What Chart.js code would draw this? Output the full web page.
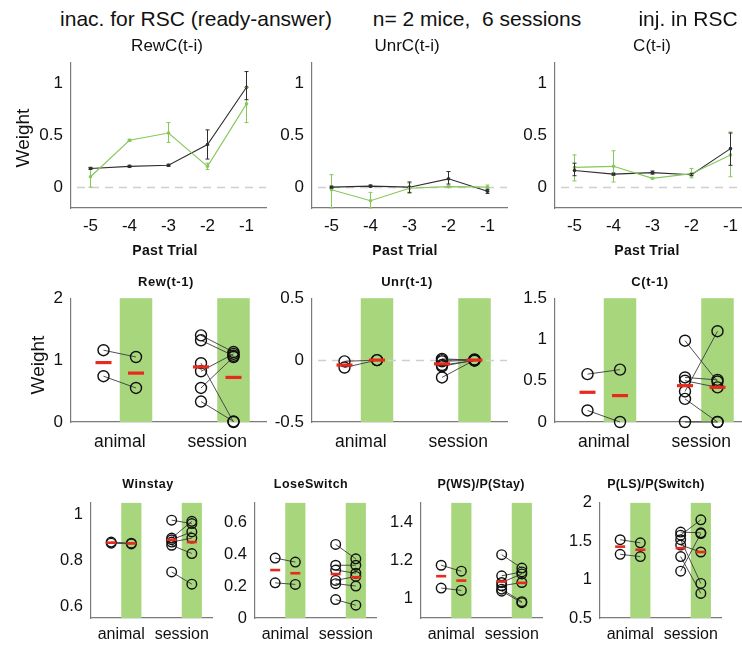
<!DOCTYPE html>
<html><head><meta charset="utf-8">
<script src="https://cdn.jsdelivr.net/npm/chart.js@4.4.1/dist/chart.umd.min.js"></script>
<style>
html,body{margin:0;padding:0;background:#fff;overflow:hidden;}
#fig{position:relative;width:742px;height:650px;overflow:hidden;font-family:"Liberation Sans",Arial,sans-serif;color:#111;background:#fff;}
#fig canvas{position:absolute;}
.t{position:absolute;white-space:pre;transform:translate(-50%,-50%);line-height:1;}
.rot{transform:translate(-50%,-50%) rotate(-90deg);}
</style></head><body><div id="fig"></div>
<script>
// ---------- DATA ----------
const pastTrials = [-5, -4, -3, -2, -1];
const topYTicks = [0, 0.5, 1];

// RewC(t-i)
const rewC_ctrl    = [0.18, 0.20, 0.21, 0.41, 0.96];
const rewC_ctrl_lo = [0.17, 0.19, 0.20, 0.27, 0.84];
const rewC_ctrl_hi = [0.19, 0.21, 0.22, 0.55, 1.11];
const rewC_inac    = [0.10, 0.45, 0.52, 0.20, 0.80];
const rewC_inac_lo = [0.00, 0.44, 0.43, 0.17, 0.62];
const rewC_inac_hi = [0.19, 0.46, 0.62, 0.23, 0.96];
// UnrC(t-i)
const unrC_ctrl    = [0.00, 0.01, 0.00, 0.08, -0.04];
const unrC_ctrl_lo = [-0.01, 0.00, -0.05, 0.03, -0.06];
const unrC_ctrl_hi = [0.01, 0.02, 0.05, 0.15, -0.02];
const unrC_inac    = [-0.025, -0.13, -0.01, 0.005, 0.00];
const unrC_inac_lo = [-0.20, -0.20, -0.06, 0.00, -0.02];
const unrC_inac_hi = [0.12, -0.05, 0.04, 0.01, 0.02];
// C(t-i)
const cC_ctrl    = [0.16, 0.125, 0.14, 0.12, 0.37];
const cC_ctrl_lo = [0.11, 0.115, 0.125, 0.11, 0.21];
const cC_ctrl_hi = [0.23, 0.135, 0.155, 0.13, 0.52];
const cC_inac    = [0.19, 0.20, 0.085, 0.13, 0.31];
const cC_inac_lo = [0.06, 0.05, 0.08, 0.09, 0.10];
const cC_inac_hi = [0.31, 0.35, 0.09, 0.18, 0.53];

const catLabels = ['animal', 'session'];

// Rew(t-1)
const rew_animal_ctrl  = [1.16, 0.74];
const rew_animal_inac  = [1.05, 0.55];
const rew_animal_mean  = [0.96, 0.79];
const rew_session_ctrl = [1.40, 1.32, 0.95, 0.82, 0.55, 0.33];
const rew_session_inac = [1.13, 1.07, 0.00, 1.10, 1.05, 0.01];
const rew_session_mean = [0.89, 0.72];
// Unr(t-1)
const unr_animal_ctrl  = [-0.01, -0.06];
const unr_animal_inac  = [0.00, 0.00];
const unr_animal_mean  = [-0.04, 0.00];
const unr_session_ctrl = [0.01, 0.00, -0.01, -0.04, -0.05, -0.14];
const unr_session_inac = [0.00, 0.005, 0.00, -0.005, 0.00, 0.00];
const unr_session_mean = [-0.03, 0.00];
// C(t-1)
const c_animal_ctrl  = [0.58, 0.14];
const c_animal_inac  = [0.635, 0.00];
const c_animal_mean  = [0.36, 0.32];
const c_session_ctrl = [0.985, 0.54, 0.50, 0.37, 0.28, 0.00];
const c_session_inac = [0.49, 0.51, 0.42, 1.10, 0.00, 0.00];
const c_session_mean = [0.44, 0.42];

// Winstay
const ws_animal_ctrl  = [0.88, 0.875];
const ws_animal_inac  = [0.875, 0.872];
const ws_animal_mean  = [0.877, 0.874];
const ws_session_ctrl = [0.975, 0.897, 0.89, 0.88, 0.866, 0.75];
const ws_session_inac = [0.96, 0.97, 0.924, 0.897, 0.83, 0.697];
const ws_session_mean = [0.89, 0.88];
// LoseSwitch
const ls_animal_ctrl  = [0.375, 0.22];
const ls_animal_inac  = [0.35, 0.21];
const ls_animal_mean  = [0.30, 0.28];
const ls_session_ctrl = [0.46, 0.33, 0.30, 0.235, 0.215, 0.115];
const ls_session_inac = [0.37, 0.33, 0.28, 0.26, 0.20, 0.08];
const ls_session_mean = [0.275, 0.255];
// P(WS)/P(Stay)
const wsr_animal_ctrl  = [1.175, 1.056];
const wsr_animal_inac  = [1.144, 1.044];
const wsr_animal_mean  = [1.118, 1.095];
const wsr_session_ctrl = [1.23, 1.12, 1.085, 1.068, 1.05, 1.04];
const wsr_session_inac = [1.16, 1.14, 1.13, 1.085, 0.985, 0.98];
const wsr_session_mean = [1.09, 1.083];
// P(LS)/P(Switch)
const lsr_animal_ctrl  = [1.52, 1.33];
const lsr_animal_inac  = [1.48, 1.30];
const lsr_animal_mean  = [1.43, 1.39];
const lsr_session_ctrl = [1.62, 1.58, 1.52, 1.45, 1.30, 1.11];
const lsr_session_inac = [1.61, 1.78, 0.95, 1.36, 0.82, 1.60];
const lsr_session_mean = [1.41, 1.36];

// ---------- STYLE ----------
const FONT = '"Liberation Sans", Arial, sans-serif';
const AXIS_COL = '#7a7a7a';
const BLACK_LINE = '#2e2e2e';
const GREEN_LINE = '#86c75a';
const GREEN_BAR = '#a8d67c';
const RED = '#e8291d';
const fig = document.getElementById('fig');

function addText(txt, x, y, size, extra) {
  const d = document.createElement('div');
  d.className = 't' + (extra && extra.rot ? ' rot' : '');
  d.textContent = txt;
  d.style.left = x + 'px'; d.style.top = y + 'px';
  d.style.fontSize = size + 'px';
  if (extra && extra.bold) d.style.fontWeight = 'bold';
  if (extra && extra.ls) d.style.letterSpacing = extra.ls + 'px';
  fig.appendChild(d);
}

const PADL = 70, PADT = 14, PADR = 14, XH = 40;

function makeChart(p) {
  const cv = document.createElement('canvas');
  const W = PADL + p.w + PADR, H = PADT + p.h + XH;
  cv.width = W; cv.height = H;
  cv.style.width = W + 'px'; cv.style.height = H + 'px';
  cv.style.left = (p.axisX - PADL) + 'px';
  cv.style.top = (p.top - PADT) + 'px';
  fig.appendChild(cv);
  const plug = {
    id: 'deco',
    beforeDatasetsDraw(ch) {
      const c = ch.ctx, a = ch.chartArea, xs = ch.scales.x, ys = ch.scales.y;
      c.save();
      (p.bands || []).forEach(b => {
        const x0 = xs.getPixelForValue(b[0]), x1 = xs.getPixelForValue(b[1]);
        c.fillStyle = GREEN_BAR;
        c.fillRect(x0, a.top, x1 - x0, a.bottom - a.top);
      });
      if (p.zeroLine) {
        const y0 = Math.round(ys.getPixelForValue(0)) + 0.5;
        c.strokeStyle = '#cfcfcf'; c.lineWidth = 1.3; c.setLineDash([8, 6]);
        c.beginPath(); c.moveTo(a.left + 6, y0); c.lineTo(a.right, y0); c.stroke();
      }
      c.restore();
    },
    afterDatasetsDraw(ch) {
      const c = ch.ctx, xs = ch.scales.x, ys = ch.scales.y;
      c.save(); c.lineWidth = 1;
      (p.errs || []).forEach(e => {
        c.strokeStyle = e.color;
        e.x.forEach((xv, i) => {
          const px = xs.getPixelForValue(xv);
          const y0 = ys.getPixelForValue(e.lo[i]), y1 = ys.getPixelForValue(e.hi[i]);
          c.beginPath();
          c.moveTo(px, y0); c.lineTo(px, y1);
          c.moveTo(px - 2, y0); c.lineTo(px + 2, y0);
          c.moveTo(px - 2, y1); c.lineTo(px + 2, y1);
          c.stroke();
        });
      });
      c.restore();
    }
  };
  const ch = new Chart(cv, {
    type: 'scatter',
    data: { datasets: p.datasets },
    options: {
      responsive: false, animation: false, devicePixelRatio: 1, events: [],
      layout: { padding: { left: 0, top: PADT, right: PADR, bottom: 0 } },
      plugins: { legend: { display: false }, tooltip: { enabled: false }, title: { display: false } },
      scales: {
        x: {
          type: 'linear', min: p.xmin, max: p.xmax,
          afterFit: s => { s.height = XH; },
          afterBuildTicks: s => { s.ticks = p.xticks.map(v => ({ value: v })); },
          ticks: { autoSkip: false, maxRotation: 0, padding: p.xpad, color: '#111',
                   font: { family: FONT, size: p.xfont },
                   callback: p.xlabel },
          grid: { display: false, drawTicks: false },
          border: { display: true, color: AXIS_COL, width: 1.2 }
        },
        y: {
          type: 'linear', min: p.ymin, max: p.ymax,
          afterFit: s => { s.width = PADL; },
          afterBuildTicks: s => { s.ticks = p.yticks.map(v => ({ value: v })); },
          ticks: { autoSkip: false, padding: 8, color: '#111',
                   font: { family: FONT, size: p.yfont },
                   callback: v => String(v) },
          grid: { display: false, drawTicks: false },
          border: { display: true, color: AXIS_COL, width: 1.2 }
        }
      }
    },
    plugins: [plug]
  });
  const a = ch.chartArea;
  cv.style.left = (p.axisX - a.left) + 'px';
  cv.style.top = (p.top - a.top) + 'px';
  return ch;
}

function lineDs(vals, color) {
  return {
    data: pastTrials.map((x, i) => ({ x: x, y: vals[i] })),
    showLine: true, borderColor: color, borderWidth: 1.1,
    pointRadius: 1.8, pointBackgroundColor: color, pointBorderColor: color, pointBorderWidth: 0,
    clip: false
  };
}

function topPanel(axisX, ctrl, inac, errs) {
  makeChart({
    axisX: axisX, top: 62, w: 195, h: 150,
    xmin: -5.5, xmax: -0.5, xticks: pastTrials, xfont: 17, xpad: 8, xlabel: v => String(v),
    ymin: -0.2, ymax: 1.2, yticks: topYTicks, yfont: 17,
    zeroLine: true,
    datasets: [lineDs(inac, GREEN_LINE), lineDs(ctrl, BLACK_LINE)],
    errs: [
      { x: pastTrials, lo: errs[2], hi: errs[3], color: GREEN_LINE },
      { x: pastTrials, lo: errs[0], hi: errs[1], color: BLACK_LINE }
    ]
  });
}

function pairDatasets(aC, aI, aM, sC, sI, sM, r, mr, mw) {
  const links = [];
  aC.forEach((v, i) => { links.push({ x: 1, y: v }, { x: 2, y: aI[i] }, { x: 1.5, y: null }); });
  sC.forEach((v, i) => { links.push({ x: 4, y: v }, { x: 5, y: sI[i] }, { x: 4.5, y: null }); });
  const circles = [].concat(
    aC.map(v => ({ x: 1, y: v })), aI.map(v => ({ x: 2, y: v })),
    sC.map(v => ({ x: 4, y: v })), sI.map(v => ({ x: 5, y: v })));
  const means = [{ x: 1, y: aM[0] }, { x: 2, y: aM[1] }, { x: 4, y: sM[0] }, { x: 5, y: sM[1] }];
  return [
    { data: links, showLine: true, spanGaps: false, borderColor: '#3c3c3c', borderWidth: 0.9,
      pointRadius: 0, clip: false, order: 3 },
    { data: circles, pointStyle: 'circle', pointRadius: r, pointBorderColor: '#111',
      pointBackgroundColor: 'rgba(0,0,0,0)', pointBorderWidth: 1.4, clip: false, order: 2 },
    { data: means, pointStyle: 'line', pointRadius: mr, pointBorderColor: RED,
      pointBackgroundColor: RED, pointBorderWidth: mw, clip: false, order: 1 }
  ];
}

function catPanel(p, d) {
  const catX = [1.5, 4.5];
  makeChart(Object.assign({
    xmin: 0, xmax: 6, xticks: catX,
    xlabel: v => catLabels[catX.indexOf(v)],
    bands: [[1.5, 2.5], [4.5, 5.5]],
    datasets: pairDatasets(d[0], d[1], d[2], d[3], d[4], d[5], p.r, p.mr, p.mw)
  }, p));
}

// ---------- TOP ROW ----------
topPanel(71, rewC_ctrl, rewC_inac, [rewC_ctrl_lo, rewC_ctrl_hi, rewC_inac_lo, rewC_inac_hi]);
topPanel(312, unrC_ctrl, unrC_inac, [unrC_ctrl_lo, unrC_ctrl_hi, unrC_inac_lo, unrC_inac_hi]);
topPanel(555, cC_ctrl, cC_inac, [cC_ctrl_lo, cC_ctrl_hi, cC_inac_lo, cC_inac_hi]);

// ---------- MIDDLE ROW ----------
const mid = { top: 298, h: 128, w: 195, xfont: 17.5, xpad: 10, yfont: 17, r: 5.5, mr: 8, mw: 3.2 };
catPanel(Object.assign({ axisX: 71, ymin: 0, ymax: 2, yticks: [0, 1, 2] }, mid),
  [rew_animal_ctrl, rew_animal_inac, rew_animal_mean, rew_session_ctrl, rew_session_inac, rew_session_mean]);
catPanel(Object.assign({ axisX: 312, ymin: -0.5, ymax: 0.5, yticks: [-0.5, 0, 0.5], zeroLine: true }, mid),
  [unr_animal_ctrl, unr_animal_inac, unr_animal_mean, unr_session_ctrl, unr_session_inac, unr_session_mean]);
catPanel(Object.assign({ axisX: 555, ymin: 0, ymax: 1.5, yticks: [0, 0.5, 1, 1.5] }, mid),
  [c_animal_ctrl, c_animal_inac, c_animal_mean, c_session_ctrl, c_session_inac, c_session_mean]);

// ---------- BOTTOM ROW ----------
const bot = { top: 503, h: 119, w: 121, xfont: 16, xpad: 7, yfont: 16.5, r: 4.8, mr: 5, mw: 2.6 };
catPanel(Object.assign({ axisX: 91, ymin: 0.55, ymax: 1.05, yticks: [0.6, 0.8, 1] }, bot),
  [ws_animal_ctrl, ws_animal_inac, ws_animal_mean, ws_session_ctrl, ws_session_inac, ws_session_mean]);
catPanel(Object.assign({ axisX: 255, ymin: 0, ymax: 0.72, yticks: [0, 0.2, 0.4, 0.6] }, bot),
  [ls_animal_ctrl, ls_animal_inac, ls_animal_mean, ls_session_ctrl, ls_session_inac, ls_session_mean]);
catPanel(Object.assign({ axisX: 421, ymin: 0.9, ymax: 1.5, yticks: [1, 1.2, 1.4] }, bot),
  [wsr_animal_ctrl, wsr_animal_inac, wsr_animal_mean, wsr_session_ctrl, wsr_session_inac, wsr_session_mean]);
catPanel(Object.assign({ axisX: 600, ymin: 0.5, ymax: 2, yticks: [0.5, 1, 1.5, 2] }, bot),
  [lsr_animal_ctrl, lsr_animal_inac, lsr_animal_mean, lsr_session_ctrl, lsr_session_inac, lsr_session_mean]);

// ---------- TEXT ----------
addText('inac. for RSC (ready-answer)', 196, 18, 21);
addText('n= 2 mice,  6 sessions', 477, 18, 21);
addText('inj. in RSC', 688, 18, 21);
addText('RewC(t-i)', 167, 45, 17);
addText('UnrC(t-i)', 407, 45, 17);
addText('C(t-i)', 652, 45, 17);
addText('Weight', 22, 138, 19, { rot: true });
addText('Past Trial', 165, 250, 14, { bold: true, ls: 0.3 });
addText('Past Trial', 405, 250, 14, { bold: true, ls: 0.3 });
addText('Past Trial', 647, 250, 14, { bold: true, ls: 0.3 });
addText('Rew(t-1)', 166, 281, 13, { bold: true, ls: 0.6 });
addText('Unr(t-1)', 407, 281, 13, { bold: true, ls: 0.6 });
addText('C(t-1)', 650, 281, 13, { bold: true, ls: 0.6 });
addText('Weight', 37, 365, 19, { rot: true });
addText('Winstay', 148, 484, 12.5, { bold: true, ls: 0.5 });
addText('LoseSwitch', 311, 484, 12.5, { bold: true, ls: 0.5 });
addText('P(WS)/P(Stay)', 481, 484, 12.5, { bold: true, ls: 0.3 });
addText('P(LS)/P(Switch)', 656, 484, 12.5, { bold: true, ls: 0.3 });
</script>
</body></html>
